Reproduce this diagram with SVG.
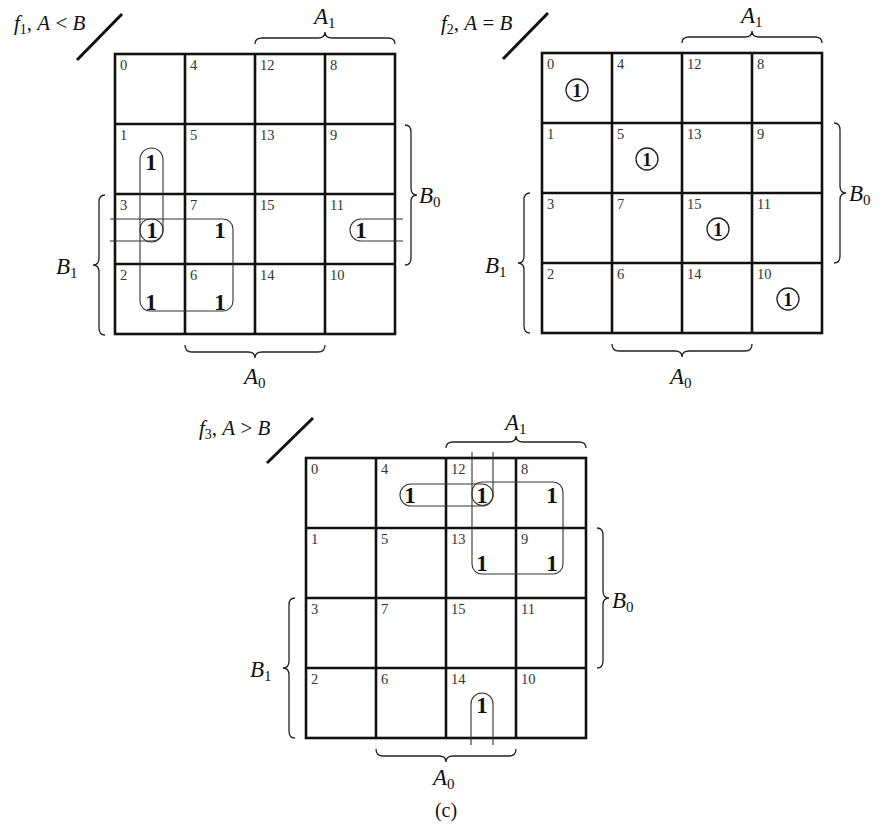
<svg xmlns="http://www.w3.org/2000/svg" width="885" height="827" viewBox="0 0 885 827">
<style>
.grid{fill:none;stroke:#111;stroke-width:2.6}
.loop{fill:none;stroke:#333;stroke-width:1.1}
.brace{fill:none;stroke:#222;stroke-width:1.3}
.num{font-family:"Liberation Serif",serif;font-size:14.5px;fill:#333}
.one{font-family:"Liberation Serif",serif;font-size:23px;font-weight:bold;fill:#111;text-anchor:middle}
.lbl{font-family:"Liberation Serif",serif;font-size:23px;font-style:italic;fill:#111}
.sub{font-style:normal;font-size:15px}
.fl{font-family:"Liberation Serif",serif;font-size:21px;fill:#111}
.it{font-style:italic}
.slash{stroke:#111;stroke-width:3}
.circ{fill:none;stroke:#222;stroke-width:1.3}
</style>
<rect width="885" height="827" fill="#fff"/>

<!-- MAP 1 -->
<g id="map1">
<text class="fl" x="14" y="30"><tspan class="it">f</tspan><tspan font-size="14" dy="4">1</tspan><tspan dy="-4">, </tspan><tspan class="it">A</tspan> &lt; <tspan class="it">B</tspan></text>
<line class="slash" x1="77" y1="60" x2="122" y2="14"/>
<rect class="grid" x="115" y="54" width="280" height="280"/>
<path class="grid" d="M185,54V334M255,54V334M325,54V334M115,124H395M115,194H395M115,264H395"/>
<g class="num">
<text x="120" y="70">0</text><text x="190" y="70">4</text><text x="260" y="70">12</text><text x="330" y="70">8</text>
<text x="120" y="140">1</text><text x="190" y="140">5</text><text x="260" y="140">13</text><text x="330" y="140">9</text>
<text x="120" y="210">3</text><text x="190" y="210">7</text><text x="260" y="210">15</text><text x="330" y="210">11</text>
<text x="120" y="280">2</text><text x="190" y="280">6</text><text x="260" y="280">14</text><text x="330" y="280">10</text>
</g>
<path class="brace" d="M255,44 Q255,38 262,38 L318,38 Q325,38 325,32 Q325,38 332,38 L388,38 Q395,38 395,44"/>
<path class="brace" d="M405,125 Q411,125 411,132 L411,188 Q411,195 417,195 Q411,195 411,202 L411,258 Q411,265 405,265"/>
<path class="brace" d="M105,195 Q99,195 99,202 L99,258 Q99,265 93,265 Q99,265 99,272 L99,328 Q99,335 105,335"/>
<path class="brace" d="M185,345 Q185,352 192,352 L248,352 Q255,352 255,358 Q255,352 262,352 L318,352 Q325,352 325,345"/>
<text class="lbl" x="314" y="24">A<tspan class="sub" dy="4">1</tspan></text>
<text class="lbl" x="419" y="203">B<tspan class="sub" dy="4">0</tspan></text>
<text class="lbl" x="56" y="274">B<tspan class="sub" dy="4">1</tspan></text>
<text class="lbl" x="244" y="384">A<tspan class="sub" dy="4">0</tspan></text>
<rect class="loop" x="140" y="148" width="23" height="94" rx="11.5"/>
<path class="loop" d="M110,219 L152,219 A11,11 0 0 1 152,241 L110,241"/>
<path class="loop" d="M403,219 L361,219 A11,11 0 0 0 361,241 L403,241"/>
<rect class="loop" x="140" y="219" width="93" height="92" rx="10"/>
<text class="one" x="151" y="170">1</text>
<text class="one" x="152" y="238">1</text>
<text class="one" x="220" y="238">1</text>
<text class="one" x="361" y="238">1</text>
<text class="one" x="151" y="310">1</text>
<text class="one" x="220" y="310">1</text>
</g>

<!-- MAP 2 -->
<g id="map2">
<text class="fl" x="441" y="30"><tspan class="it">f</tspan><tspan font-size="14" dy="4">2</tspan><tspan dy="-4">, </tspan><tspan class="it">A</tspan> = <tspan class="it">B</tspan></text>
<line class="slash" x1="503" y1="59" x2="548" y2="13"/>
<rect class="grid" x="542" y="53" width="280" height="280"/>
<path class="grid" d="M612,53V333M682,53V333M752,53V333M542,123H822M542,193H822M542,263H822"/>
<g class="num">
<text x="547" y="69">0</text><text x="617" y="69">4</text><text x="687" y="69">12</text><text x="757" y="69">8</text>
<text x="547" y="139">1</text><text x="617" y="139">5</text><text x="687" y="139">13</text><text x="757" y="139">9</text>
<text x="547" y="209">3</text><text x="617" y="209">7</text><text x="687" y="209">15</text><text x="757" y="209">11</text>
<text x="547" y="279">2</text><text x="617" y="279">6</text><text x="687" y="279">14</text><text x="757" y="279">10</text>
</g>
<path class="brace" d="M682,43 Q682,37 689,37 L745,37 Q752,37 752,31 Q752,37 759,37 L815,37 Q822,37 822,43"/>
<path class="brace" d="M834,123 Q840,123 840,130 L840,186 Q840,193 846,193 Q840,193 840,200 L840,256 Q840,263 834,263"/>
<path class="brace" d="M530,193 Q524,193 524,200 L524,256 Q524,263 518,263 Q524,263 524,270 L524,326 Q524,333 530,333"/>
<path class="brace" d="M612,344 Q612,351 619,351 L675,351 Q682,351 682,357 Q682,351 689,351 L745,351 Q752,351 752,344"/>
<text class="lbl" x="741" y="23">A<tspan class="sub" dy="4">1</tspan></text>
<text class="lbl" x="849" y="201">B<tspan class="sub" dy="4">0</tspan></text>
<text class="lbl" x="485" y="273">B<tspan class="sub" dy="4">1</tspan></text>
<text class="lbl" x="670" y="384">A<tspan class="sub" dy="4">0</tspan></text>
<circle class="circ" cx="577" cy="90" r="11"/><text class="one" x="577" y="97" style="font-size:19px">1</text>
<circle class="circ" cx="647" cy="159" r="11"/><text class="one" x="647" y="166" style="font-size:19px">1</text>
<circle class="circ" cx="718" cy="229" r="11"/><text class="one" x="718" y="236" style="font-size:19px">1</text>
<circle class="circ" cx="788" cy="299" r="11"/><text class="one" x="788" y="306" style="font-size:19px">1</text>
</g>

<!-- MAP 3 -->
<g id="map3">
<text class="fl" x="199" y="435"><tspan class="it">f</tspan><tspan font-size="14" dy="4">3</tspan><tspan dy="-4">, </tspan><tspan class="it">A</tspan> &gt; <tspan class="it">B</tspan></text>
<line class="slash" x1="267" y1="463" x2="313" y2="418"/>
<rect class="grid" x="306" y="458" width="280" height="280"/>
<path class="grid" d="M376,458V738M446,458V738M516,458V738M306,528H586M306,598H586M306,668H586"/>
<g class="num">
<text x="311" y="474">0</text><text x="381" y="474">4</text><text x="451" y="474">12</text><text x="521" y="474">8</text>
<text x="311" y="544">1</text><text x="381" y="544">5</text><text x="451" y="544">13</text><text x="521" y="544">9</text>
<text x="311" y="614">3</text><text x="381" y="614">7</text><text x="451" y="614">15</text><text x="521" y="614">11</text>
<text x="311" y="684">2</text><text x="381" y="684">6</text><text x="451" y="684">14</text><text x="521" y="684">10</text>
</g>
<path class="brace" d="M446,448 Q446,442 453,442 L509,442 Q516,442 516,436 Q516,442 523,442 L579,442 Q586,442 586,448"/>
<path class="brace" d="M597,528 Q603,528 603,535 L603,591 Q603,598 609,598 Q603,598 603,605 L603,661 Q603,668 597,668"/>
<path class="brace" d="M295,598 Q289,598 289,605 L289,661 Q289,668 283,668 Q289,668 289,675 L289,731 Q289,738 295,738"/>
<path class="brace" d="M376,749 Q376,756 383,756 L439,756 Q446,756 446,762 Q446,756 453,756 L509,756 Q516,756 516,749"/>
<text class="lbl" x="505" y="430">A<tspan class="sub" dy="4">1</tspan></text>
<text class="lbl" x="612" y="608">B<tspan class="sub" dy="4">0</tspan></text>
<text class="lbl" x="250" y="677">B<tspan class="sub" dy="4">1</tspan></text>
<text class="lbl" x="433" y="785">A<tspan class="sub" dy="4">0</tspan></text>
<rect class="loop" x="400" y="484" width="93" height="22" rx="11"/>
<path class="loop" d="M472,452 L472,495 A10.5,10.5 0 0 0 493,495 L493,452"/>
<path class="loop" d="M471,745 L471,704 A11,11 0 0 1 493,704 L493,745"/>
<rect class="loop" x="472" y="482" width="91" height="92" rx="10"/>
<text class="one" x="410" y="503">1</text>
<text class="one" x="482" y="503">1</text>
<text class="one" x="552" y="503">1</text>
<text class="one" x="482" y="571">1</text>
<text class="one" x="552" y="571">1</text>
<text class="one" x="482" y="713">1</text>
</g>

<text x="446" y="817" font-family="Liberation Serif, serif" font-size="20" text-anchor="middle" fill="#111">(c)</text>
</svg>
